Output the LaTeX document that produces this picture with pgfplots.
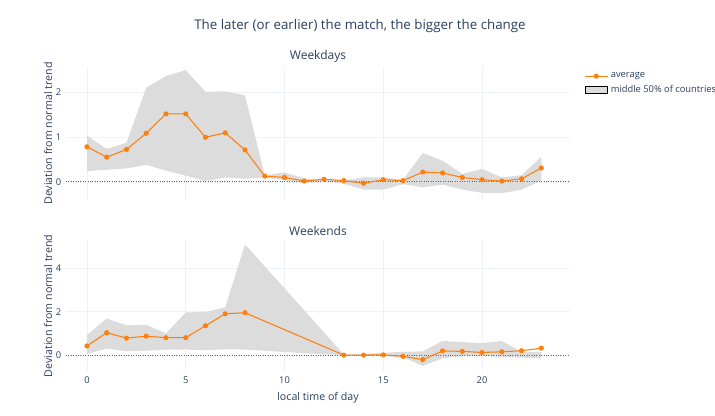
\documentclass[border=0pt]{standalone}
\usepackage{pgfplots}
\pgfplotsset{compat=1.18}
\usepackage{fontspec}
\setmainfont{Open Sans}
\definecolor{txt}{HTML}{2A3F5F}
\definecolor{org}{HTML}{FF7F0E}
\definecolor{band}{HTML}{DCDCDC}
\definecolor{grd}{HTML}{EEF1F8}
\begin{document}
\begin{tikzpicture}[font=\color{txt}]
\path[use as bounding box] (0,0) rectangle (536.25pt,311.25pt);
\pgfplotsset{every axis/.style={scale only axis, width=378pt, xmin=-1.06, xmax=24.45,
  axis line style={draw=none}, tick style={draw=none}, grid=major, grid style={grd},
  ticklabel style={font=\scriptsize\color{txt}}, /pgf/number format/assume math mode=true,
  xtick={0,5,10,15,20}, title style={font=\small\color{txt}, yshift=-6pt},
  ylabel style={font=\footnotesize\color{txt}, yshift=-4pt}, clip=false, anchor=south west}}
\begin{axis}[at={(49.5pt,161.25pt)}, height=99.75pt, ymin=-0.4, ymax=2.55, ytick={0,1,2},
  xticklabels={}, title={Weekdays}, ylabel={Deviation from normal trend},
  legend style={at={(1.02,1)}, anchor=north west, draw=none, font=\scriptsize\color{txt}, cells={anchor=west}},
  legend cell align=left]
\addplot[draw=none, fill=band, forget plot] coordinates {(0,1.03)(1,0.73)(2,0.87)(3,2.09)(4,2.35)(5,2.48)(6,2.0)(7,2.01)(8,1.92)(9,0.15)(10,0.21)(11,0.08)(12,0.05)(13,0.04)(14,0.10)(15,0.10)(16,0.05)(17,0.64)(18,0.47)(19,0.18)(20,0.29)(21,0.10)(22,0.15)(23,0.56)
(23,0.03)(22,-0.17)(21,-0.25)(20,-0.24)(19,-0.17)(18,-0.06)(17,-0.12)(16,-0.05)(15,-0.17)(14,-0.17)(13,-0.04)(12,0.02)(11,-0.02)(10,0.04)(9,0.10)(8,0.07)(7,0.10)(6,0.02)(5,0.14)(4,0.25)(3,0.38)(2,0.30)(1,0.27)(0,0.24)} -- cycle;
\draw[densely dotted, gray!80!black, thick] (axis cs:-1.06,0) -- (axis cs:24.45,0);
\addplot[org, thick, mark=*, mark size=1.5pt] coordinates {(0,0.78)(1,0.55)(2,0.72)(3,1.08)(4,1.51)(5,1.51)(6,0.99)(7,1.09)(8,0.71)(9,0.13)(10,0.10)(11,0.02)(12,0.06)(13,0.03)(14,-0.03)(15,0.05)(16,0.03)(17,0.22)(18,0.20)(19,0.10)(20,0.05)(21,0.02)(22,0.07)(23,0.31)};
\addlegendentry{average}
\addlegendimage{area legend, draw=none, fill=band}
\addlegendentry{middle 50\% of countries}
\end{axis}
\begin{axis}[at={(49.5pt,32.25pt)}, height=99pt, ymin=-0.78, ymax=5.3, ytick={0,2,4},
  title={Weekends}, ylabel={Deviation from normal trend}, xlabel={local time of day},
  xlabel style={font=\footnotesize\color{txt}}]
\addplot[draw=none, fill=band] coordinates {(0,0.92)(1,1.68)(2,1.37)(3,1.39)(4,1.0)(5,1.96)(6,1.99)(7,2.2)(8,5.1)(13,0.03)(14,0.05)(15,0.1)(16,0.15)(17,0.17)(18,0.65)(19,0.6)(20,0.55)(21,0.65)(22,0.15)(23,0.15)
(23,-0.15)(22,-0.12)(21,-0.08)(20,-0.05)(19,-0.05)(18,-0.15)(17,-0.5)(16,-0.1)(15,-0.05)(14,-0.03)(13,-0.02)(8,0.25)(7,0.27)(6,0.22)(5,0.25)(4,0.25)(3,0.2)(2,0.18)(1,0.3)(0,0.05)} -- cycle;
\draw[densely dotted, gray!80!black, thick] (axis cs:-1.06,0) -- (axis cs:24.45,0);
\addplot[org, thick, mark=*, mark size=1.5pt] coordinates {(0,0.42)(1,1.03)(2,0.78)(3,0.87)(4,0.80)(5,0.80)(6,1.35)(7,1.90)(8,1.95)(13,0.0)(14,0.0)(15,0.01)(16,-0.06)(17,-0.21)(18,0.19)(19,0.17)(20,0.12)(21,0.15)(22,0.20)(23,0.32)};
\end{axis}
\node[font=\normalsize\color{txt}] at (270pt,292pt) {The later (or earlier) the match, the bigger the change};
\end{tikzpicture}
\end{document}
